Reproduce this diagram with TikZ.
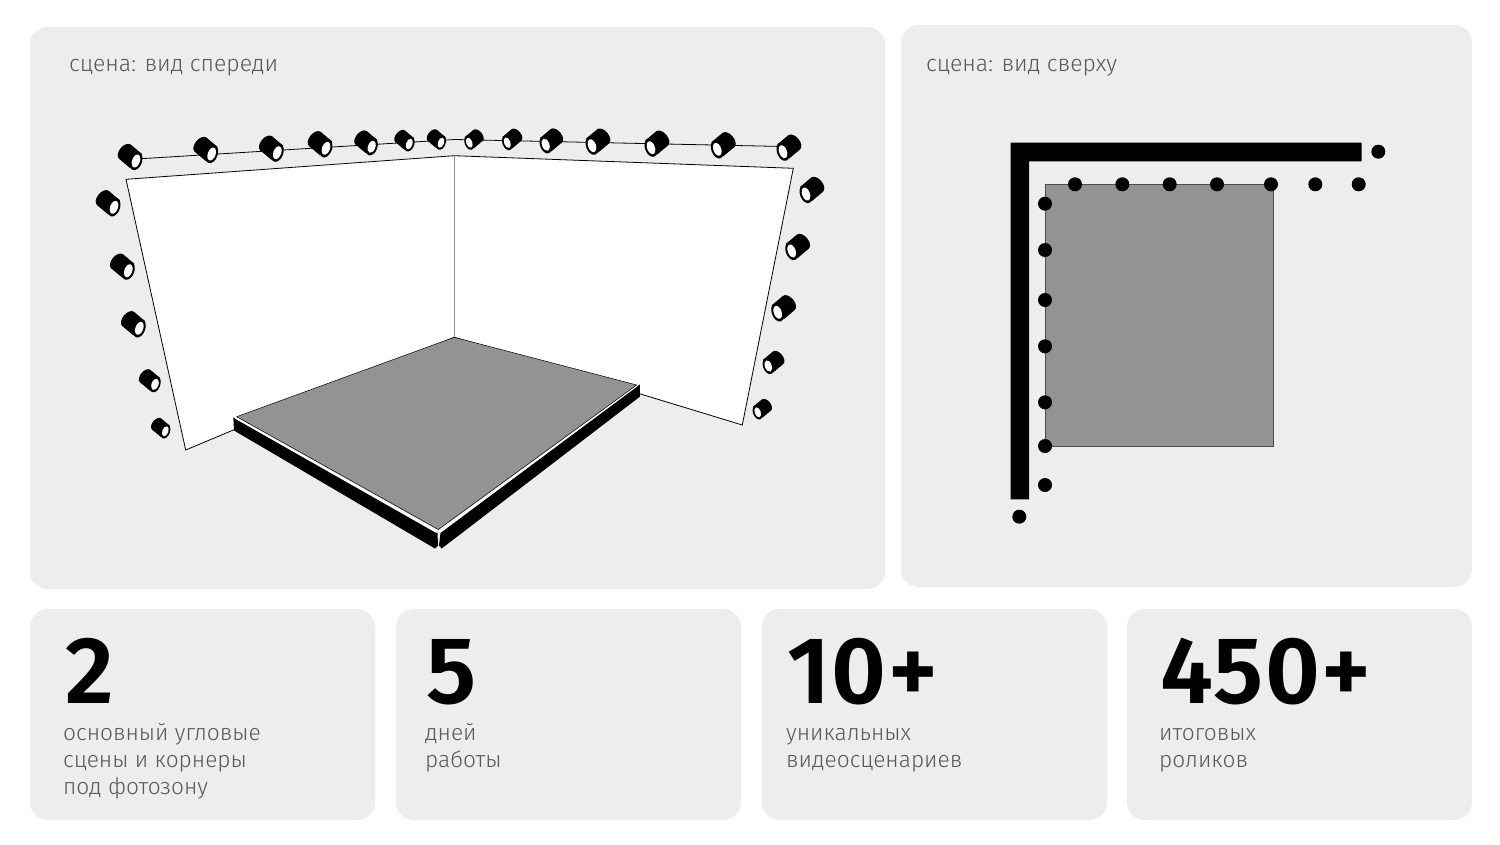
\documentclass[tikz,border=0pt]{standalone}
\usepackage{fontspec}
\setmainfont{Fira Sans Light}
\newfontfamily\statfont[LetterSpace=1.5]{Fira Sans SemiBold}
\definecolor{panelgray}{HTML}{EDEDED}
\definecolor{floorgray}{HTML}{939393}
\definecolor{textgray}{HTML}{585858}
\tikzset{panel/.style={fill=panelgray, rounded corners=18pt},
         caption/.style={anchor=base west, inner sep=0pt, text=textgray, font=\fontsize{23}{27}\selectfont},
         statnum/.style={anchor=base west, inner sep=0pt, text=black, font=\statfont\fontsize{95}{95}\selectfont},
         statlabel/.style={anchor=north west, inner sep=0pt, align=left, text=textgray, font=\fontsize{22.7}{26.7}\selectfont},
         lampdot/.style={circle, fill=black, inner sep=0pt, minimum size=14pt},
         pics/lamp/.style={code={
            \fill[black] (-14.5,-9.2) -- (0,-9.2) -- (0,9.2) -- (-14.5,9.2) -- cycle;
            \fill[black] (-14.5,0) ellipse [x radius=5.5pt, y radius=9.2pt];
            \fill[black, rotate=20] (0,0) ellipse [x radius=6pt, y radius=9.5pt];
            \fill[white, rotate=20] (0,0) ellipse [x radius=3.9pt, y radius=6.7pt];
         }}}

\begin{document}
\begin{tikzpicture}[x=1pt, y=-1pt]
    \useasboundingbox (0,0) rectangle (1500,844);
    \fill[white] (0,0) rectangle (1500,844);
    \fill[panel] (30,27) rectangle (885,589);
    \fill[panel] (901,25) rectangle (1472,587);
    \fill[panel] (30,609) rectangle (375,820);
    \fill[panel] (396,609) rectangle (741,820);
    \fill[panel] (762,609) rectangle (1107,820);
    \fill[panel] (1127,609) rectangle (1472,820);
    \node[caption] (front) at (69,71) {сцена: вид спереди};
    \node[caption] (top) at (926,71) {сцена: вид сверху};

    % walls
    \draw[black, line width=0.8pt, fill=white] (126,179.3) -- (454.3,155.7) -- (793.3,168.3) -- (742.3,425) -- (454.3,337.3) -- (185.7,450) -- cycle;
    \draw[black!45, line width=0.6pt] (454.3,155.7) -- (454.3,337.3);

    % floor
    \fill[black] (233.3,417.3) -- (437.5,533) -- (438,545.5) -- (435,548.5) -- (234,430.5) -- cycle;
    \fill[black] (440.5,533) -- (639.8,384.5) -- (639.8,396.7) -- (441.7,548.5) -- (439,545.5) -- cycle;
    \draw[white, line width=2pt] (235.3,417.6) -- (436.7,532);
    \draw[white, line width=2pt] (440.5,531) -- (637.5,384.8);
    \draw[black, line width=0.5pt, fill=floorgray] (454.3,337.3) -- (236.7,416.7) -- (438.3,529.5) -- (636.7,385) -- cycle;

    % rail and lamps
    \draw[black, line width=0.8pt] (136,159) -- (455,139.5) -- (783,146.5);
    \foreach \x/\y/\s in {136/161/1, 211.7/154/1, 277.3/152.7/1, 326/148.3/1, 371.7/146.7/.95, 409.3/144/.82, 441/142.7/.78,
                          114/207.3/1, 128.3/270.7/1, 139.3/328.3/1, 155/384.3/.88, 165.3/431.3/.78}
        \pic[rotate=-40, scale=\s] at (\x,\y) {lamp};
    \foreach \x/\y/\s in {469.3/142.7/.78, 507.3/142.7/.82, 545.7/144.7/.95, 592/145.7/1, 651/147.7/1, 717.3/149.3/1, 783/151.7/1,
                          806/194/1, 791.7/251/1, 777.7/312.3/1, 768.3/366/.88, 757.7/412.3/.78}
        \pic[xscale=-1, rotate=-40, scale=\s] at (\x,\y) {lamp};

    % plan view
    \fill[black] (1010.7,142.7) -- (1361.7,142.7) -- (1361.7,161.3) -- (1029,161.3) -- (1029,499.3) -- (1010.7,499.3) -- cycle;
    \draw[black!70, line width=0.8pt, fill=floorgray] (1045,184) rectangle (1273.7,446);
    \foreach \x [count=\i] in {1075,1122.3,1169.7,1217,1271,1315.3,1358.7}
        \node[lampdot] (r\i) at (\x,184.3) {};
    \foreach \y [count=\i] in {203.7,250,300,346.3,402.3,446,485}
        \node[lampdot] (c\i) at (1045,\y) {};
    \node[lampdot] (endtop) at (1378.3,151.7) {};
    \node[lampdot] (endleft) at (1019.3,516.7) {};

    % stats
    \node[statnum] (n1) at (65,703) {2};
    \node[statnum] (n2) at (426,703) {5};
    \node[statnum] (n3) at (787,703) {10+};
    \node[statnum] (n4) at (1160,703) {450+};
    \node[statlabel] (l1) at (63,722) {\strut основный угловые\\сцены и корнеры\\под фотозону};
    \node[statlabel] (l2) at (425,722) {\strut дней\\работы};
    \node[statlabel] (l3) at (786,722) {\strut уникальных\\видеосценариев};
    \node[statlabel] (l4) at (1159,722) {\strut итоговых\\роликов};
\end{tikzpicture}
\end{document}
